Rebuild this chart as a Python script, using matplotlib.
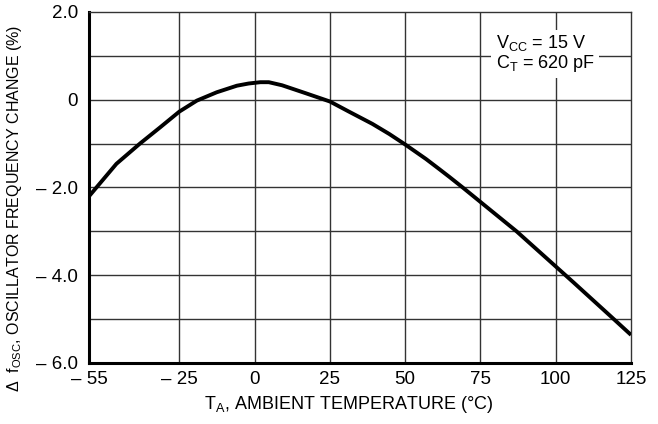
import matplotlib
matplotlib.use("Agg")
import matplotlib.pyplot as plt
from matplotlib.ticker import FixedLocator

# data
temp = [-55, -45.9, -38.1, -31.4, -25, -19.2, -12.6, -5.9, -2, 1.9, 4.7, 9.1,
        16.9, 25, 31.3, 39.1, 44.7, 50, 56.9, 61.3, 64.7, 69.1, 75, 87, 100,
        106, 112.4, 118, 125]
dfreq = [-2.2, -1.46, -1.0, -0.63, -0.27, -0.02, 0.17, 0.32, 0.37, 0.4, 0.4,
         0.33, 0.15, -0.04, -0.27, -0.55, -0.78, -1.02, -1.35, -1.58, -1.76,
         -2.0, -2.33, -3.0, -3.8, -4.17, -4.57, -4.92, -5.36]

xticks = [-55, -25, 0, 25, 50, 75, 100, 125]
xlabels = ["\u2013 55", "\u2013 25", "0", "25", "50", "75", "100", "125"]
yticks = [2, 0, -2, -4, -6]
ylabels = ["2.0", "0", "\u2013 2.0", "\u2013 4.0", "\u2013 6.0"]
xgrid = [-25, 0, 25, 50, 75, 100]
ygrid = [1, 0, -1, -2, -3, -4, -5]

plt.rcParams['font.family'] = ['Liberation Sans', 'DejaVu Sans']

fig = plt.figure(figsize=(6.58, 4.24), dpi=100)
ax = fig.add_axes([0.1353, 0.1439, 0.9590 - 0.1353, 0.9717 - 0.1439])

for g in xgrid:
	ax.axvline(g, color="#333333", lw=1.0, zorder=1)
for g in ygrid:
	ax.axhline(g, color="#333333", lw=1.0, zorder=1)

ax.plot(temp, dfreq, color="black", lw=2.8, solid_capstyle="butt", solid_joinstyle="round", zorder=3)

ax.set_xlim(-55, 125)
ax.set_ylim(-6, 2)
ax.xaxis.set_major_locator(FixedLocator(xticks))
ax.yaxis.set_major_locator(FixedLocator(yticks))
ax.set_xticklabels(xlabels)
ax.set_yticklabels(ylabels)
ax.tick_params(axis="both", length=0, labelsize=13.5, colors="black")
ax.tick_params(axis="x", pad=6)
ax.tick_params(axis="y", pad=8)

ax.spines["left"].set_linewidth(2.2)
ax.spines["bottom"].set_linewidth(2.2)
ax.spines["top"].set_linewidth(1.0)
ax.spines["right"].set_linewidth(1.0)
ax.spines["top"].set_color("#333333")
ax.spines["right"].set_color("#333333")

ax.text(80, 1.52, "V$_{\\mathregular{CC}}$ = 15 V\nC$_{\\mathregular{T}}$ = 620 pF",
	fontsize=13, va="top", ha="left", linespacing=1.0, zorder=4,
	bbox=dict(facecolor="white", edgecolor="none", pad=3))

ax.set_xlabel("T$_{\\mathregular{A}}$, AMBIENT TEMPERATURE (\u00b0C)", fontsize=13)
ax.xaxis.set_label_coords(0.478, -0.088)
ax.set_ylabel("\u0394  f$_{\\mathregular{OSC}}$, OSCILLATOR FREQUENCY CHANGE (%)", fontsize=11.5)
ax.yaxis.set_label_coords(-0.12, 0.44)

plt.savefig("out.png", dpi=100)
